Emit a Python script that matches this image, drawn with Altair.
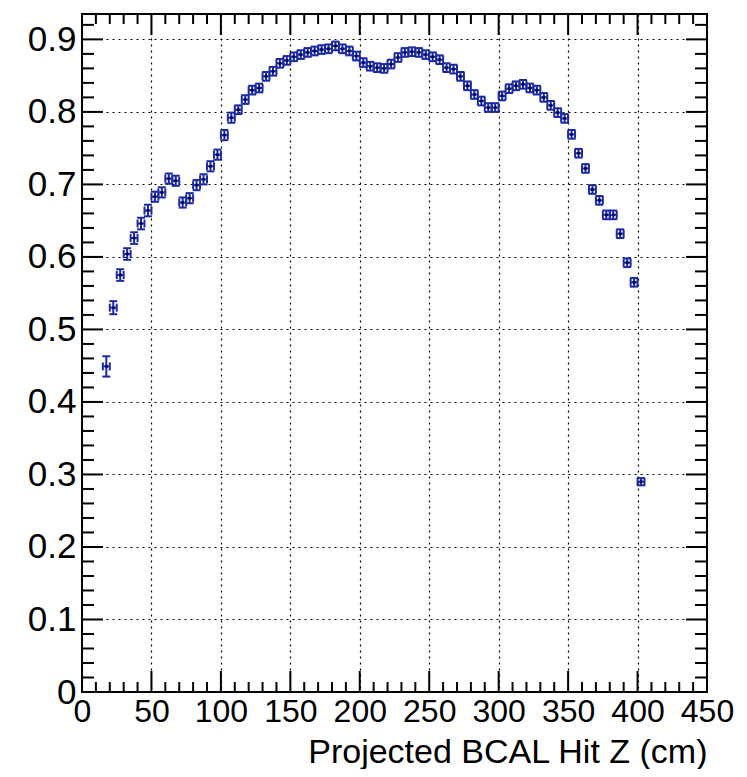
import altair as alt
import pandas as pd

# Bin centres (cm) and efficiency values
z = [17.5, 22.5, 27.5, 32.5, 37.5, 42.5, 47.5, 52.5, 57.5, 62.5,
     67.5, 72.5, 77.5, 82.5, 87.5, 92.5, 97.5, 102.5, 107.5, 112.5,
     117.5, 122.5, 127.5, 132.5, 137.5, 142.5, 147.5, 152.5, 157.5, 162.5,
     167.5, 172.5, 177.5, 182.5, 187.5, 192.5, 197.5, 202.5, 207.5, 212.5,
     217.5, 222.5, 227.5, 232.5, 237.5, 242.5, 247.5, 252.5, 257.5, 262.5,
     267.5, 272.5, 277.5, 282.5, 287.5, 292.5, 297.5, 302.5, 307.5, 312.5,
     317.5, 322.5, 327.5, 332.5, 337.5, 342.5, 347.5, 352.5, 357.5, 362.5,
     367.5, 372.5, 377.5, 382.5, 387.5, 392.5, 397.5, 402.5]
eff = [0.449, 0.530, 0.575, 0.604, 0.626, 0.646, 0.664, 0.683, 0.689, 0.708,
       0.705, 0.675, 0.681, 0.699, 0.707, 0.725, 0.741, 0.768, 0.792, 0.803,
       0.817, 0.830, 0.833, 0.849, 0.856, 0.867, 0.871, 0.876, 0.879, 0.882,
       0.884, 0.886, 0.887, 0.891, 0.887, 0.884, 0.877, 0.868, 0.863, 0.861,
       0.860, 0.866, 0.875, 0.882, 0.883, 0.882, 0.879, 0.876, 0.872, 0.861,
       0.859, 0.849, 0.836, 0.824, 0.815, 0.806, 0.806, 0.822, 0.832, 0.836,
       0.838, 0.833, 0.830, 0.820, 0.809, 0.799, 0.791, 0.769, 0.743, 0.722,
       0.693, 0.678, 0.658, 0.658, 0.632, 0.592, 0.565, 0.290]
eff_err = [0.014, 0.009, 0.008, 0.008, 0.008, 0.008, 0.008, 0.007, 0.007, 0.007,
           0.007, 0.007, 0.007, 0.007, 0.007, 0.007, 0.007, 0.007, 0.007, 0.006,
           0.006, 0.006, 0.006, 0.006, 0.006, 0.006, 0.006, 0.006, 0.006, 0.006,
           0.006, 0.006, 0.006, 0.006, 0.006, 0.006, 0.006, 0.006, 0.006, 0.006,
           0.006, 0.006, 0.006, 0.006, 0.006, 0.006, 0.006, 0.006, 0.006, 0.006,
           0.006, 0.006, 0.006, 0.006, 0.006, 0.006, 0.006, 0.006, 0.006, 0.006,
           0.006, 0.006, 0.006, 0.006, 0.006, 0.006, 0.006, 0.006, 0.006, 0.006,
           0.006, 0.006, 0.006, 0.006, 0.006, 0.006, 0.006, 0.005]
half_bin = [2.5] * len(z)

x_major = [0, 50, 100, 150, 200, 250, 300, 350, 400, 450]
x_minor = [v for v in range(0, 451, 10) if v % 50 != 0]
y_major = [0.0, 0.1, 0.2, 0.3, 0.4, 0.5, 0.6, 0.7, 0.8, 0.9]
y_minor = [round(i * 0.02, 2) for i in range(0, 47) if i % 5 != 0]

df = pd.DataFrame({
    "z": z, "eff": eff,
    "lo": [e - s for e, s in zip(eff, eff_err)],
    "hi": [e + s for e, s in zip(eff, eff_err)],
    "zl": [a - b for a, b in zip(z, half_bin)],
    "zh": [a + b for a, b in zip(z, half_bin)],
})

W, H = 625, 678
FONT = "Liberation Sans"
BLUE = "#1a2aa6"
TITLE = "Projected BCAL Hit Z (cm)"

xs = alt.Scale(domain=[0, 450], nice=False, zero=False)
ys = alt.Scale(domain=[0, 0.935], nice=False, zero=False)

XAX = alt.Axis(
    values=x_major, format="d", grid=True, gridDash=[2, 4], gridColor="black",
    gridWidth=1.2, gridOpacity=1, ticks=False, domain=False,
    labelFont=FONT, labelFontSize=32, labelColor="black", labelPadding=4,
    labelFlush=False, labelOverlap=False,
    title=TITLE, titleAnchor="end", titleFont=FONT,
    titleFontSize=34, titleFontWeight="normal", titleColor="black",
    titleBaseline="alphabetic", titleY=70)
YAX = alt.Axis(
    values=y_major, format=".1~f", grid=True, gridDash=[2, 4], gridColor="black",
    gridWidth=1.2, gridOpacity=1, ticks=False, domain=False,
    labelFont=FONT, labelFontSize=35, labelColor="black", labelPadding=6,
    labelFlush=False, labelOverlap=False, title="")


def X(f):
    return alt.X(f, scale=xs, axis=XAX, title=TITLE)


def Y(f):
    return alt.Y(f, scale=ys, axis=YAX, title="")


base = alt.Chart(df)

yerr = base.mark_rule(color=BLUE, strokeWidth=2).encode(
    x=X("z:Q"), y=Y("lo:Q"), y2="hi:Q")
xerr = base.mark_rule(color=BLUE, strokeWidth=2).encode(
    x=X("zl:Q"), x2="zh:Q", y=Y("eff:Q"))
cap_lo = base.mark_rule(color=BLUE, strokeWidth=2, xOffset=-4, x2Offset=4).encode(
    x=X("z:Q"), x2="z:Q", y=Y("lo:Q"))
cap_hi = base.mark_rule(color=BLUE, strokeWidth=2, xOffset=-4, x2Offset=4).encode(
    x=X("z:Q"), x2="z:Q", y=Y("hi:Q"))
cap_l = base.mark_rule(color=BLUE, strokeWidth=2, yOffset=-4, y2Offset=4).encode(
    x=X("zl:Q"), y=Y("eff:Q"), y2="eff:Q")
cap_r = base.mark_rule(color=BLUE, strokeWidth=2, yOffset=-4, y2Offset=4).encode(
    x=X("zh:Q"), y=Y("eff:Q"), y2="eff:Q")
pts = base.mark_square(color="#000050", size=7, opacity=1).encode(
    x=X("z:Q"), y=Y("eff:Q"))


def xticks(vals, length):
    d = alt.Chart(pd.DataFrame({"v": vals}))
    bot = d.mark_rule(color="black", strokeWidth=2).encode(
        x=X("v:Q"), y=alt.value(H), y2=alt.value(H - length))
    top = d.mark_rule(color="black", strokeWidth=2).encode(
        x=X("v:Q"), y=alt.value(0), y2=alt.value(length))
    return [bot, top]


def yticks(vals, length):
    d = alt.Chart(pd.DataFrame({"v": vals}))
    left = d.mark_rule(color="black", strokeWidth=2).encode(
        y=Y("v:Q"), x=alt.value(0), x2=alt.value(length))
    right = d.mark_rule(color="black", strokeWidth=2).encode(
        y=Y("v:Q"), x=alt.value(W - length), x2=alt.value(W))
    return [left, right]


layers = [yerr] + xticks(x_major, 21) + xticks(x_minor, 10) + \
    yticks(y_major, 21) + yticks(y_minor, 12) + \
    [xerr, cap_lo, cap_hi, cap_l, cap_r, pts]

chart = alt.layer(*layers).properties(
    width=W, height=H,
    padding={"left": 74, "top": 6, "right": 32, "bottom": 77},
    autosize=alt.AutoSizeParams(type="none"),
).configure_view(stroke="black", strokeWidth=2)

chart.save("out.html", embed_options={"renderer": "svg", "actions": False})
